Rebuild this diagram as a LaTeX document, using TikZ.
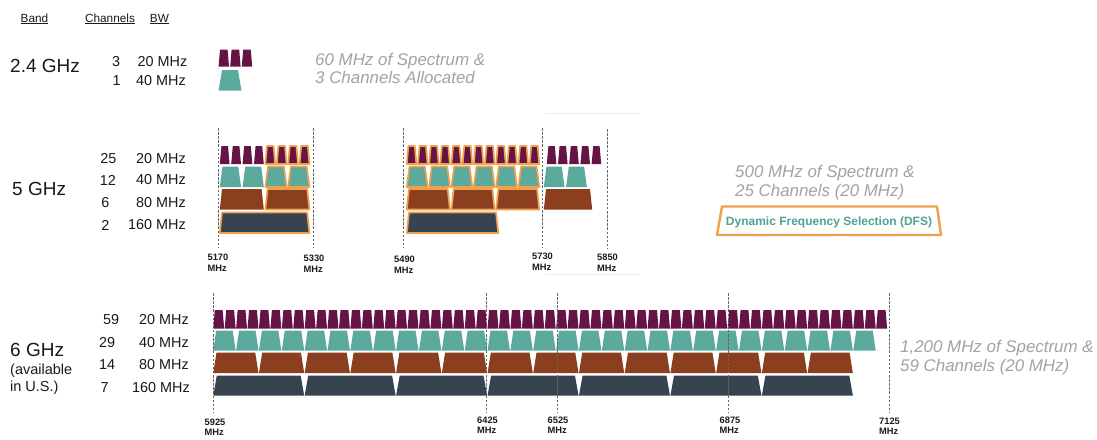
\documentclass[tikz,border=0pt]{standalone}
\usepackage{fontspec}
\setmainfont{Liberation Sans}
\definecolor{wpurple}{HTML}{651445}
\definecolor{wteal}{HTML}{5CA99E}
\definecolor{wbrown}{HTML}{8C3F1E}
\definecolor{wdark}{HTML}{37434F}
\definecolor{dfsorange}{HTML}{EEA04C}
\definecolor{notegray}{HTML}{A3A3A3}
\definecolor{dfsteal}{HTML}{4EA395}
\definecolor{txt}{HTML}{1A1A1A}
\newcommand\chan[7]{\path[#7] ({#1+#5},#4) -- ({#2-#5},#4) -- ({#2-#6},#3) -- ({#1+#6},#3) -- cycle;}
\tikzset{
  chP/.style={fill=wpurple},
  chT/.style={fill=wteal},
  chB/.style={fill=wbrown},
  chD/.style={fill=wdark},
  dfsline/.style={draw=dfsorange, line width=1.7pt, line join=round},
  vline/.style={draw=black!60, dash pattern=on 2.5pt off 1.6pt, line width=0.9pt},
  faint/.style={draw=black!7, line width=0.8pt},
  hdr/.style={inner sep=0pt, anchor=base, text=txt, font=\fontsize{11.8}{13}\selectfont},
  bandlbl/.style={inner sep=0pt, anchor=base west, text=txt, font=\fontsize{19}{22}\selectfont},
  sublbl/.style={inner sep=0pt, anchor=base west, text=txt, font=\fontsize{14.5}{17}\selectfont},
  lbl/.style={inner sep=0pt, text=txt, font=\fontsize{14.4}{16}\selectfont},
  flab/.style={inner sep=0pt, align=left, anchor=north, text=txt, font=\fontsize{9.3}{10.5}\selectfont\bfseries},
  note/.style={inner sep=0pt, anchor=base west, text=notegray, font=\fontsize{16.9}{19}\selectfont\itshape},
  dfsbox/.style={draw=dfsorange, line width=2.4pt, line join=round},
  dfstext/.style={inner sep=0pt, text=dfsteal, font=\fontsize{12}{13}\selectfont\bfseries}
}
\begin{document}
\begin{tikzpicture}[x=1pt,y=-1pt]
\useasboundingbox[fill=white] (0,0) rectangle (1097,439);

% ---------- headers ----------
\node[hdr] (hband) at (34.5,22) {\underline{Band}};
\node[hdr] (hch) at (110,22) {\underline{Channels}};
\node[hdr] (hbw) at (159.5,22) {\underline{BW}};

% ---------- 2.4 GHz ----------
\node[bandlbl] (b24) at (10,72) {2.4 GHz};
\node[lbl, anchor=west] (n24a) at (112,61.5) {3};
\node[lbl, anchor=east] (w24a) at (187.5,61.5) {20 MHz};
\node[lbl, anchor=west] (n24b) at (112.5,81) {1};
\node[lbl, anchor=east] (w24b) at (186,81) {40 MHz};
\foreach \i in {0,1,2}{
  \pgfmathsetmacro\xa{218+\i*11.6}\pgfmathsetmacro\xb{\xa+11.6}
  \chan{\xa}{\xb}{49.5}{66.5}{0.6}{2}{chP}}
\chan{218}{242}{70}{90.5}{0.6}{4}{chT}
\node[note] (n60a) at (315,65) {60 MHz of Spectrum \&};
\node[note] (n60b) at (315,83) {3 Channels Allocated};

% ---------- 5 GHz ----------
\node[bandlbl] (b5) at (12,195) {5 GHz};
\node[lbl] (n5a) at (108.3,158.5) {25};
\node[lbl] (n5b) at (108,180) {12};
\node[lbl] (n5c) at (105.5,203) {6};
\node[lbl] (n5d) at (105.5,225) {2};
\node[lbl, anchor=east] (w5a) at (186,158.5) {20 MHz};
\node[lbl, anchor=east] (w5b) at (186,180) {40 MHz};
\node[lbl, anchor=east] (w5c) at (186,203) {80 MHz};
\node[lbl, anchor=east] (w5d) at (186,225) {160 MHz};

\draw[faint] (545,113) -- (640,113);
\draw[faint] (545,274) -- (640,274);

% left block (5170-5330)
\def\ul{11.4}
\foreach \i in {0,...,3}{\pgfmathsetmacro\xa{219+\i*\ul}\pgfmathsetmacro\xb{\xa+\ul}\chan{\xa}{\xb}{146}{164}{0.8}{2.4}{chP}}
\foreach \i in {4,...,7}{\pgfmathsetmacro\xa{219+\i*\ul}\pgfmathsetmacro\xb{\xa+\ul}\chan{\xa}{\xb}{146}{164}{0.8}{2.4}{chP,dfsline}}
\foreach \i in {0,1}{\pgfmathsetmacro\xa{219+\i*2*\ul}\pgfmathsetmacro\xb{\xa+2*\ul}\chan{\xa}{\xb}{166.5}{187}{0.8}{3.5}{chT}}
\foreach \i in {2,3}{\pgfmathsetmacro\xa{219+\i*2*\ul}\pgfmathsetmacro\xb{\xa+2*\ul}\chan{\xa}{\xb}{166.5}{187}{0.8}{3.5}{chT,dfsline}}
\chan{219}{264.6}{189}{209.5}{0.8}{3}{chB}
\chan{264.6}{310.2}{189}{209.5}{0.8}{3}{chB,dfsline}
\chan{219}{310.2}{212.5}{233}{0.8}{3}{chD,dfsline}

% right block (5490-5850)
\def\ur{11.17}
\foreach \i in {0,...,11}{\pgfmathsetmacro\xa{406+\i*\ur}\pgfmathsetmacro\xb{\xa+\ur}\chan{\xa}{\xb}{146}{164}{0.8}{2.4}{chP,dfsline}}
\foreach \i in {0,...,5}{\pgfmathsetmacro\xa{406+\i*2*\ur}\pgfmathsetmacro\xb{\xa+2*\ur}\chan{\xa}{\xb}{166.5}{187}{0.8}{3.5}{chT,dfsline}}
\foreach \i in {0,1,2}{\pgfmathsetmacro\xa{406+\i*4*\ur}\pgfmathsetmacro\xb{\xa+4*\ur}\chan{\xa}{\xb}{189}{209.5}{0.8}{3}{chB,dfsline}}
\chan{406}{499}{212.5}{233}{0.8}{3}{chD,dfsline}
\foreach \i in {0,...,4}{\pgfmathsetmacro\xa{546+\i*11.2}\pgfmathsetmacro\xb{\xa+11.2}\chan{\xa}{\xb}{146}{164}{0.8}{2.4}{chP}}
\foreach \i in {0,1}{\pgfmathsetmacro\xa{543+\i*22.3}\pgfmathsetmacro\xb{\xa+22.3}\chan{\xa}{\xb}{166.5}{187}{0.8}{3.5}{chT}}
\chan{543}{593}{189}{209.5}{0.8}{3}{chB}

\draw[vline] (218,128) -- (218,248);
\draw[vline] (313,128) -- (313,248);
\draw[vline] (403,128) -- (403,248);
\draw[vline] (542,128) -- (542,248);
\draw[vline] (607,129) -- (607,248);
\node[flab] (f5170) at (218,254) {5170\\MHz};
\node[flab] (f5330) at (314,255) {5330\\MHz};
\node[flab] (f5490) at (404.5,256) {5490\\MHz};
\node[flab] (f5730) at (542.5,253) {5730\\MHz};
\node[flab] (f5850) at (607.5,254) {5850\\MHz};

\node[note] (n500a) at (735,177.3) {500 MHz of Spectrum \&};
\node[note] (n500b) at (735,196) {25 Channels (20 MHz)};
\draw[dfsbox] (722,206.5) -- (937,206.5) -- (941,235) -- (717,235) -- cycle;
\node[dfstext] (dfs) at (829,222) {Dynamic Frequency Selection (DFS)};

% ---------- 6 GHz ----------
\node[bandlbl] (b6) at (10,356) {6 GHz};
\node[sublbl] (b6a) at (10,374.5) {(available};
\node[sublbl] (b6b) at (10,391.5) {in U.S.)};
\node[lbl, anchor=west] (n6a) at (103,320) {59};
\node[lbl, anchor=west] (n6b) at (99,342.5) {29};
\node[lbl, anchor=west] (n6c) at (99,365) {14};
\node[lbl, anchor=west] (n6d) at (100.5,387.5) {7};
\node[lbl, anchor=east] (w6a) at (189,320) {20 MHz};
\node[lbl, anchor=east] (w6b) at (189,342.5) {40 MHz};
\node[lbl, anchor=east] (w6c) at (189,365) {80 MHz};
\node[lbl, anchor=east] (w6d) at (190,387.5) {160 MHz};

\def\ux{11.43}
\foreach \i in {0,...,58}{\pgfmathsetmacro\xa{213+\i*\ux}\pgfmathsetmacro\xb{\xa+\ux}\chan{\xa}{\xb}{310}{328.5}{0.25}{1.8}{chP}}
\foreach \i in {0,...,28}{\pgfmathsetmacro\xa{213+\i*2*\ux}\pgfmathsetmacro\xb{\xa+2*\ux}\chan{\xa}{\xb}{330.5}{350.5}{0.25}{3.2}{chT}}
\foreach \i in {0,...,13}{\pgfmathsetmacro\xa{213+\i*4*\ux}\pgfmathsetmacro\xb{\xa+4*\ux}\chan{\xa}{\xb}{352.5}{373}{0.25}{3.5}{chB}}
\foreach \i in {0,...,6}{\pgfmathsetmacro\xa{213+\i*8*\ux}\pgfmathsetmacro\xb{\xa+8*\ux}\chan{\xa}{\xb}{375.5}{395.5}{0.25}{3.8}{chD}}

\draw[vline] (213,293) -- (213,413);
\draw[vline] (486.7,293) -- (486.7,413);
\draw[vline] (557,293) -- (557,413);
\draw[vline] (728,293) -- (728,413);
\draw[vline] (889,293) -- (889,413);
\node[flab] (f5925) at (215,418.5) {5925\\MHz};
\node[flab] (f6425) at (487.5,416.5) {6425\\MHz};
\node[flab] (f6525) at (558,416.5) {6525\\MHz};
\node[flab] (f6875) at (730,416.5) {6875\\MHz};
\node[flab] (f7125) at (889.5,417.5) {7125\\MHz};

\node[note] (n1200a) at (900,352.7) {1,200 MHz of Spectrum \&};
\node[note] (n1200b) at (900,371.7) {59 Channels (20 MHz)};
\end{tikzpicture}
\end{document}
